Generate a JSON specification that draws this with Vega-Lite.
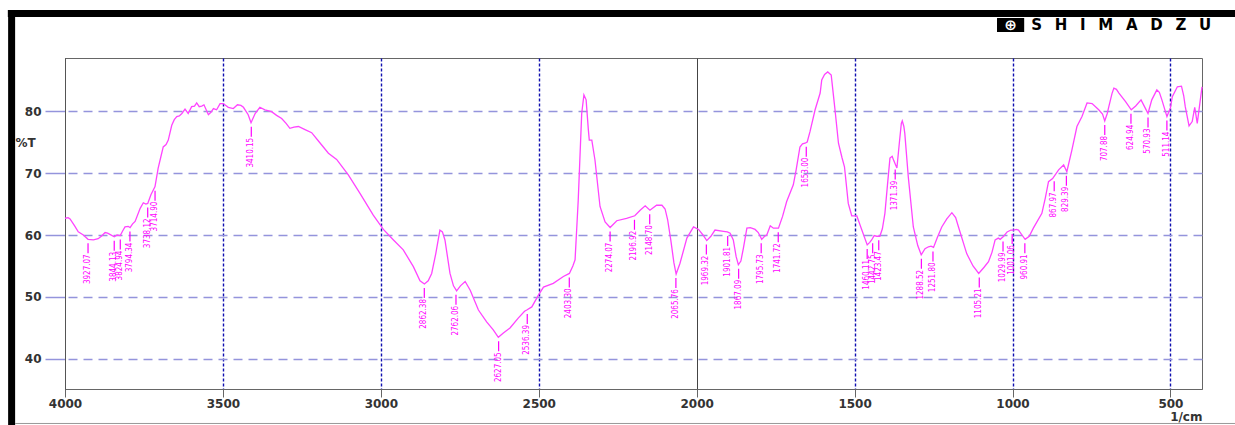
{
  "$schema": "https://vega.github.io/schema/vega-lite/v6.json",
  "width": 1137,
  "height": 331,
  "autosize": {"type": "none"},
  "padding": {"left": 65, "top": 58, "right": 33, "bottom": 36},
  "background": "white",
  "config": {
    "view": {"stroke": "#666", "strokeWidth": 1},
    "axis": {"labelFont": "DejaVu Sans", "titleFont": "DejaVu Sans"}
  },
  "datasets": {
    "spectrum": [
      {"wn": 4000, "t": 62.7}, {"wn": 3990, "t": 62.8}, {"wn": 3984, "t": 62.6}, {"wn": 3970, "t": 61.5},
      {"wn": 3958, "t": 60.5}, {"wn": 3942, "t": 60.0}, {"wn": 3927, "t": 59.3}, {"wn": 3910, "t": 59.2},
      {"wn": 3895, "t": 59.4}, {"wn": 3885, "t": 59.8}, {"wn": 3873, "t": 60.4}, {"wn": 3865, "t": 60.3},
      {"wn": 3858, "t": 60.1}, {"wn": 3844, "t": 59.7}, {"wn": 3835, "t": 60.0}, {"wn": 3825, "t": 59.9},
      {"wn": 3818, "t": 60.6}, {"wn": 3810, "t": 61.3}, {"wn": 3800, "t": 61.4}, {"wn": 3794, "t": 61.2},
      {"wn": 3786, "t": 61.8}, {"wn": 3778, "t": 62.2}, {"wn": 3762, "t": 64.3}, {"wn": 3752, "t": 65.2},
      {"wn": 3744, "t": 65.0}, {"wn": 3738, "t": 65.1}, {"wn": 3728, "t": 66.5}, {"wn": 3720, "t": 67.3},
      {"wn": 3715, "t": 67.8}, {"wn": 3705, "t": 70.8}, {"wn": 3697, "t": 72.5}, {"wn": 3689, "t": 74.2},
      {"wn": 3680, "t": 74.6}, {"wn": 3673, "t": 75.3}, {"wn": 3662, "t": 77.7}, {"wn": 3654, "t": 78.6},
      {"wn": 3646, "t": 79.1}, {"wn": 3638, "t": 79.2}, {"wn": 3630, "t": 79.6}, {"wn": 3620, "t": 80.3},
      {"wn": 3610, "t": 79.6}, {"wn": 3599, "t": 80.7}, {"wn": 3590, "t": 80.8}, {"wn": 3583, "t": 81.3},
      {"wn": 3575, "t": 80.7}, {"wn": 3567, "t": 80.8}, {"wn": 3560, "t": 81.0}, {"wn": 3546, "t": 79.4},
      {"wn": 3538, "t": 79.8}, {"wn": 3530, "t": 80.4}, {"wn": 3520, "t": 80.2}, {"wn": 3509, "t": 81.2},
      {"wn": 3499, "t": 81.2}, {"wn": 3483, "t": 80.6}, {"wn": 3467, "t": 80.4}, {"wn": 3454, "t": 81.0},
      {"wn": 3443, "t": 80.9}, {"wn": 3435, "t": 80.6}, {"wn": 3420, "t": 79.4}, {"wn": 3411, "t": 78.1},
      {"wn": 3398, "t": 79.6}, {"wn": 3383, "t": 80.6}, {"wn": 3367, "t": 80.2}, {"wn": 3346, "t": 79.9},
      {"wn": 3330, "t": 79.3}, {"wn": 3314, "t": 78.8}, {"wn": 3300, "t": 78.0}, {"wn": 3288, "t": 77.2},
      {"wn": 3275, "t": 77.4}, {"wn": 3261, "t": 77.5}, {"wn": 3240, "t": 77.0}, {"wn": 3219, "t": 76.5},
      {"wn": 3195, "t": 75.0}, {"wn": 3166, "t": 73.2}, {"wn": 3140, "t": 72.2}, {"wn": 3103, "t": 69.7},
      {"wn": 3066, "t": 66.7}, {"wn": 3024, "t": 63.2}, {"wn": 2992, "t": 60.9}, {"wn": 2960, "t": 59.2},
      {"wn": 2929, "t": 57.6}, {"wn": 2897, "t": 54.9}, {"wn": 2876, "t": 52.6}, {"wn": 2862, "t": 52.1},
      {"wn": 2850, "t": 52.6}, {"wn": 2839, "t": 53.8}, {"wn": 2826, "t": 57.0}, {"wn": 2813, "t": 60.8},
      {"wn": 2805, "t": 60.5}, {"wn": 2797, "t": 59.2}, {"wn": 2781, "t": 53.8}, {"wn": 2770, "t": 51.8},
      {"wn": 2760, "t": 51.0}, {"wn": 2748, "t": 51.8}, {"wn": 2733, "t": 52.5}, {"wn": 2717, "t": 51.1},
      {"wn": 2691, "t": 47.9}, {"wn": 2665, "t": 46.0}, {"wn": 2644, "t": 44.7}, {"wn": 2628, "t": 43.5},
      {"wn": 2612, "t": 44.2}, {"wn": 2591, "t": 45.0}, {"wn": 2565, "t": 46.6}, {"wn": 2545, "t": 47.7},
      {"wn": 2538, "t": 47.9}, {"wn": 2522, "t": 48.4}, {"wn": 2501, "t": 50.3}, {"wn": 2485, "t": 51.6},
      {"wn": 2454, "t": 52.2}, {"wn": 2422, "t": 53.3}, {"wn": 2403, "t": 53.8}, {"wn": 2392, "t": 55.0},
      {"wn": 2385, "t": 56.0}, {"wn": 2375, "t": 65.6}, {"wn": 2364, "t": 79.6}, {"wn": 2357, "t": 82.6},
      {"wn": 2350, "t": 81.8}, {"wn": 2343, "t": 77.0}, {"wn": 2340, "t": 75.3}, {"wn": 2332, "t": 75.3},
      {"wn": 2322, "t": 72.1}, {"wn": 2306, "t": 64.6}, {"wn": 2290, "t": 62.1}, {"wn": 2274, "t": 61.2},
      {"wn": 2253, "t": 62.3}, {"wn": 2222, "t": 62.7}, {"wn": 2196, "t": 63.1}, {"wn": 2179, "t": 64.0},
      {"wn": 2163, "t": 64.7}, {"wn": 2148, "t": 64.0}, {"wn": 2127, "t": 64.8}, {"wn": 2110, "t": 64.8},
      {"wn": 2100, "t": 64.2}, {"wn": 2092, "t": 62.5}, {"wn": 2082, "t": 59.2}, {"wn": 2072, "t": 55.5},
      {"wn": 2065, "t": 53.7}, {"wn": 2053, "t": 55.4}, {"wn": 2031, "t": 59.5}, {"wn": 2010, "t": 61.3},
      {"wn": 1994, "t": 60.9}, {"wn": 1980, "t": 60.0}, {"wn": 1968, "t": 59.1}, {"wn": 1955, "t": 59.8},
      {"wn": 1942, "t": 60.8}, {"wn": 1915, "t": 60.6}, {"wn": 1903, "t": 60.5}, {"wn": 1894, "t": 60.3},
      {"wn": 1884, "t": 59.2}, {"wn": 1875, "t": 56.5}, {"wn": 1868, "t": 55.2}, {"wn": 1860, "t": 55.8},
      {"wn": 1852, "t": 57.9}, {"wn": 1841, "t": 61.1}, {"wn": 1830, "t": 61.2}, {"wn": 1815, "t": 60.9},
      {"wn": 1805, "t": 60.4}, {"wn": 1794, "t": 59.3}, {"wn": 1785, "t": 59.8}, {"wn": 1778, "t": 60.0},
      {"wn": 1767, "t": 61.5}, {"wn": 1757, "t": 61.1}, {"wn": 1741, "t": 61.1}, {"wn": 1728, "t": 63.0},
      {"wn": 1715, "t": 65.4}, {"wn": 1694, "t": 68.1}, {"wn": 1685, "t": 70.5}, {"wn": 1673, "t": 74.2},
      {"wn": 1665, "t": 74.7}, {"wn": 1657, "t": 74.8}, {"wn": 1650, "t": 75.0}, {"wn": 1641, "t": 76.7},
      {"wn": 1625, "t": 80.2}, {"wn": 1609, "t": 82.9}, {"wn": 1604, "t": 85.0}, {"wn": 1595, "t": 85.9},
      {"wn": 1585, "t": 86.3}, {"wn": 1574, "t": 85.8}, {"wn": 1568, "t": 83.0}, {"wn": 1562, "t": 80.2},
      {"wn": 1551, "t": 74.8}, {"wn": 1540, "t": 72.5}, {"wn": 1532, "t": 71.0}, {"wn": 1520, "t": 65.1},
      {"wn": 1509, "t": 63.1}, {"wn": 1493, "t": 63.1}, {"wn": 1477, "t": 60.8}, {"wn": 1460, "t": 58.4},
      {"wn": 1452, "t": 58.8}, {"wn": 1446, "t": 59.2}, {"wn": 1438, "t": 59.9}, {"wn": 1430, "t": 59.8},
      {"wn": 1420, "t": 59.8}, {"wn": 1412, "t": 61.0}, {"wn": 1404, "t": 63.5}, {"wn": 1396, "t": 68.0},
      {"wn": 1388, "t": 72.4}, {"wn": 1381, "t": 72.7}, {"wn": 1376, "t": 72.0}, {"wn": 1366, "t": 70.8},
      {"wn": 1358, "t": 75.0}, {"wn": 1352, "t": 78.0}, {"wn": 1349, "t": 78.4}, {"wn": 1344, "t": 77.5},
      {"wn": 1341, "t": 76.4}, {"wn": 1330, "t": 69.4}, {"wn": 1314, "t": 61.3}, {"wn": 1300, "t": 58.3},
      {"wn": 1289, "t": 56.8}, {"wn": 1277, "t": 57.8}, {"wn": 1266, "t": 58.1}, {"wn": 1258, "t": 58.2},
      {"wn": 1250, "t": 58.0}, {"wn": 1238, "t": 59.6}, {"wn": 1224, "t": 61.3}, {"wn": 1208, "t": 62.6},
      {"wn": 1192, "t": 63.6}, {"wn": 1180, "t": 62.8}, {"wn": 1171, "t": 61.3}, {"wn": 1145, "t": 57.0},
      {"wn": 1125, "t": 55.0}, {"wn": 1107, "t": 53.8}, {"wn": 1090, "t": 54.8}, {"wn": 1076, "t": 55.7},
      {"wn": 1065, "t": 57.2}, {"wn": 1055, "t": 59.2}, {"wn": 1045, "t": 59.5}, {"wn": 1039, "t": 59.3},
      {"wn": 1028, "t": 59.8}, {"wn": 1017, "t": 60.5}, {"wn": 1005, "t": 60.8}, {"wn": 997, "t": 60.8},
      {"wn": 988, "t": 60.9}, {"wn": 981, "t": 60.8}, {"wn": 970, "t": 60.0}, {"wn": 960, "t": 59.3},
      {"wn": 947, "t": 59.8}, {"wn": 934, "t": 61.1}, {"wn": 907, "t": 63.5}, {"wn": 896, "t": 66.0},
      {"wn": 886, "t": 68.6}, {"wn": 873, "t": 69.1}, {"wn": 854, "t": 70.5}, {"wn": 838, "t": 71.3},
      {"wn": 828, "t": 70.2}, {"wn": 812, "t": 73.7}, {"wn": 796, "t": 77.5}, {"wn": 780, "t": 79.1},
      {"wn": 764, "t": 81.3}, {"wn": 748, "t": 81.2}, {"wn": 727, "t": 80.2}, {"wn": 715, "t": 79.5},
      {"wn": 708, "t": 78.4}, {"wn": 700, "t": 79.6}, {"wn": 695, "t": 80.7}, {"wn": 685, "t": 82.8},
      {"wn": 679, "t": 83.7}, {"wn": 671, "t": 83.5}, {"wn": 663, "t": 82.9}, {"wn": 642, "t": 81.5},
      {"wn": 624, "t": 80.2}, {"wn": 610, "t": 80.8}, {"wn": 593, "t": 81.8}, {"wn": 580, "t": 80.5},
      {"wn": 571, "t": 79.6}, {"wn": 559, "t": 81.8}, {"wn": 543, "t": 83.4}, {"wn": 535, "t": 83.0},
      {"wn": 527, "t": 81.8}, {"wn": 511, "t": 79.1}, {"wn": 500, "t": 80.5}, {"wn": 494, "t": 82.3},
      {"wn": 478, "t": 83.9}, {"wn": 465, "t": 84.0}, {"wn": 458, "t": 82.5}, {"wn": 453, "t": 80.7},
      {"wn": 441, "t": 77.6}, {"wn": 431, "t": 78.3}, {"wn": 423, "t": 80.6}, {"wn": 415, "t": 78.0},
      {"wn": 400, "t": 83.9}
    ],
    "peaks": [
      {"wn": 3927.07, "t": 59.3}, {"wn": 3844.13, "t": 59.7}, {"wn": 3824.94, "t": 59.9},
      {"wn": 3794.34, "t": 61.2}, {"wn": 3738.12, "t": 65.1}, {"wn": 3714.90, "t": 67.8},
      {"wn": 3410.15, "t": 78.1}, {"wn": 2862.38, "t": 52.1}, {"wn": 2762.06, "t": 51.0},
      {"wn": 2627.05, "t": 43.5}, {"wn": 2536.39, "t": 47.9}, {"wn": 2403.30, "t": 53.8},
      {"wn": 2274.07, "t": 61.2}, {"wn": 2196.92, "t": 63.1}, {"wn": 2148.70, "t": 64.0},
      {"wn": 2065.76, "t": 53.7}, {"wn": 1969.32, "t": 59.1}, {"wn": 1901.81, "t": 60.5},
      {"wn": 1867.09, "t": 55.2}, {"wn": 1795.73, "t": 59.3}, {"wn": 1741.72, "t": 61.1},
      {"wn": 1653.00, "t": 74.9}, {"wn": 1460.11, "t": 58.4}, {"wn": 1442.75, "t": 59.3},
      {"wn": 1423.47, "t": 59.8}, {"wn": 1371.39, "t": 71.2}, {"wn": 1288.52, "t": 56.8},
      {"wn": 1251.80, "t": 58.0}, {"wn": 1105.21, "t": 53.8}, {"wn": 1029.99, "t": 59.6},
      {"wn": 1001.06, "t": 60.8}, {"wn": 960.91, "t": 59.3}, {"wn": 867.97, "t": 69.3},
      {"wn": 829.39, "t": 70.2}, {"wn": 707.88, "t": 78.4}, {"wn": 624.94, "t": 80.2},
      {"wn": 570.93, "t": 79.6}, {"wn": 511.14, "t": 79.1}
    ],
    "brand": [{"name": "SHIMADZU"}]
  },
  "layer": [
    {
      "data": {"name": "spectrum"},
      "mark": {"type": "line", "color": "#ff44ff", "strokeWidth": 1.3, "interpolate": "linear"},
      "encoding": {
        "x": {
          "field": "wn",
          "type": "quantitative",
          "scale": {"domain": [400, 4000], "reverse": true, "nice": false, "zero": false},
          "axis": {
            "values": [4000, 3500, 3000, 2500, 2000, 1500, 1000, 500],
            "format": "d",
            "title": "1/cm",
            "titleAnchor": "end",
            "titleAlign": "right",
            "titleBaseline": "alphabetic",
            "titleX": 1137,
            "titleY": 31,
            "titleFontSize": 12,
            "titleFontWeight": "bold",
            "titleColor": "#333",
            "labelFontSize": 12,
            "labelFontWeight": "bold",
            "labelColor": "#333",
            "labelPadding": 1,
            "labelFlush": false,
            "tickSize": 8,
            "tickColor": "#666",
            "domainColor": "#666",
            "grid": true,
            "gridColor": {"condition": {"test": "datum.value === 2000 || datum.value === 4000", "value": "#444"}, "value": "#1010b0"},
            "gridDash": {"condition": {"test": "datum.value === 2000 || datum.value === 4000", "value": []}, "value": [3, 2]},
            "gridWidth": {"condition": {"test": "datum.value === 2000 || datum.value === 4000", "value": 1}, "value": 1.4},
            "gridOpacity": 1
          }
        },
        "y": {
          "field": "t",
          "type": "quantitative",
          "scale": {"domain": [35.16, 88.55], "nice": false, "zero": false},
          "axis": {
            "values": [40, 50, 60, 70, 80],
            "title": "%T",
            "titleAngle": 0,
            "titleAlign": "left",
            "titleBaseline": "middle",
            "titleX": -50,
            "titleY": 84,
            "titleFontSize": 12,
            "titleFontWeight": "bold",
            "titleColor": "#333",
            "labelFontSize": 12,
            "labelFontWeight": "bold",
            "labelColor": "#333",
            "labelPadding": 4,
            "tickSize": 20,
            "tickColor": "#9494dc",
            "tickWidth": 1.5,
            "domainColor": "#555",
            "grid": true,
            "gridColor": "#9494dc",
            "gridDash": [9, 6],
            "gridWidth": 1.5,
            "gridOpacity": 1
          }
        }
      }
    },
    {
      "data": {"name": "peaks"},
      "mark": {"type": "rule", "color": "#ff00ff", "strokeWidth": 1.2, "yOffset": 4, "y2Offset": 14},
      "encoding": {
        "x": {"field": "wn", "type": "quantitative"},
        "y": {"field": "t", "type": "quantitative"},
        "y2": {"field": "t"}
      }
    },
    {
      "data": {"name": "peaks"},
      "mark": {
        "type": "text",
        "color": "#ff00ff",
        "angle": 270,
        "align": "right",
        "baseline": "middle",
        "yOffset": 15,
        "font": "Liberation Sans Narrow, DejaVu Sans Condensed, sans-serif",
        "fontSize": 8
      },
      "encoding": {
        "x": {"field": "wn", "type": "quantitative"},
        "y": {"field": "t", "type": "quantitative"},
        "text": {"field": "wn", "type": "quantitative", "format": ".2f"}
      }
    },
    {
      "data": {"name": "brand"},
      "mark": {"type": "rule", "color": "black", "strokeWidth": 7, "clip": false},
      "encoding": {
        "x": {"datum": 4181, "type": "quantitative"},
        "x2": {"datum": 280},
        "y": {"datum": 95.73, "type": "quantitative"}
      }
    },
    {
      "data": {"name": "brand"},
      "mark": {"type": "rule", "color": "black", "strokeWidth": 7, "clip": false},
      "encoding": {
        "x": {"datum": 4169, "type": "quantitative"},
        "y": {"datum": 96.3, "type": "quantitative"},
        "y2": {"datum": 29}
      }
    },
    {
      "data": {"name": "brand"},
      "mark": {"type": "rule", "color": "#999", "strokeWidth": 1, "clip": false},
      "encoding": {
        "x": {"datum": 4158, "type": "quantitative"},
        "x2": {"datum": 280},
        "y": {"datum": 29.6, "type": "quantitative"}
      }
    },
    {
      "data": {"name": "brand"},
      "mark": {"type": "rect", "color": "black", "clip": false},
      "encoding": {
        "x": {"datum": 1049, "type": "quantitative"},
        "x2": {"datum": 963},
        "y": {"datum": 95.0, "type": "quantitative"},
        "y2": {"datum": 92.74}
      }
    },
    {
      "data": {"name": "brand"},
      "mark": {"type": "text", "color": "white", "fontSize": 15, "fontWeight": "bold", "font": "DejaVu Sans", "align": "center", "baseline": "middle", "text": "⊕", "clip": false},
      "encoding": {
        "x": {"datum": 1006, "type": "quantitative"},
        "y": {"datum": 93.85, "type": "quantitative"}
      }
    },
    {
      "data": {"name": "brand"},
      "mark": {"type": "text", "color": "black", "fontSize": 15, "fontWeight": "bold", "font": "DejaVu Sans", "align": "left", "baseline": "middle", "clip": false},
      "encoding": {
        "x": {"datum": 941, "type": "quantitative"},
        "y": {"datum": 93.82, "type": "quantitative"},
        "text": {"value": "S  \u2002H  \u2002I  \u2002M  \u2002A  \u2002D  \u2002Z  \u2002U"}
      }
    }
  ]
}
